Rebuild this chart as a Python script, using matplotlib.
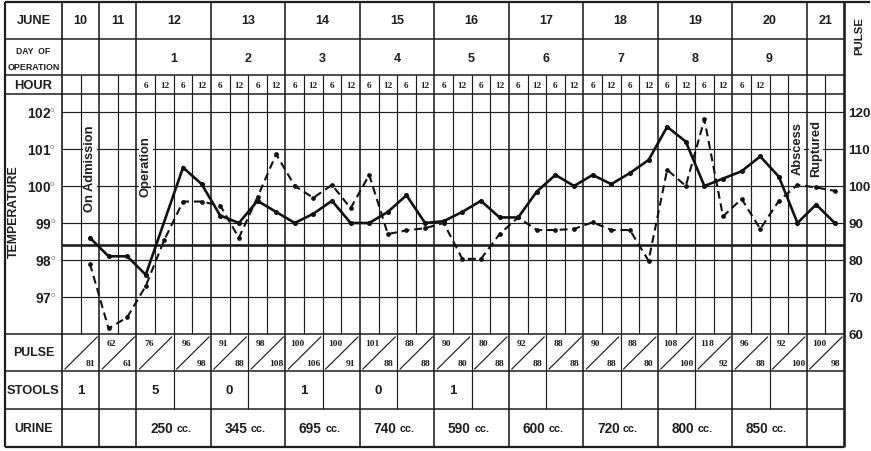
import matplotlib
matplotlib.use("Agg")
import matplotlib.pyplot as plt

# ---------------- data ----------------
dates = ["10", "11", "12", "13", "14", "15", "16", "17", "18", "19", "20", "21"]
day_of_operation = ["", "", "1", "2", "3", "4", "5", "6", "7", "8", "9", ""]
subcols_per_day = [2, 2, 4, 4, 4, 4, 4, 4, 4, 4, 4, 2]
hour_labels = (["", "", "", ""] + ["6", "12", "6", "12"] * 8
               + ["6", "12", "", ""] + ["", ""])

# temperature (deg F) read at each 6-hour slot (None = no reading plotted)
temperature = [None, 98.6, 98.1, 98.1, 97.6, None, 100.5, 100.05,
               99.2, 99.0, 99.6, 99.3, 99.0, 99.25, 99.6, 99.0,
               99.0, 99.3, 99.75, 99.0, 99.05, 99.3, 99.6, 99.15,
               99.15, 99.85, 100.3, 100.0, 100.3, 100.05, 100.35, 100.7,
               101.6, 101.2, 100.0, 100.2, 100.4, 100.8, 100.25, 99.0,
               99.5, 99.0]
# pulse (beats/min) read at each slot
pulse = [None, 79, 61.5, 64.5, 73, 85.5, 95.8, 95.8,
         94.7, 86, 97, 108.6, 100, 96.8, 100.3, 94,
         103, 87, 88, 88.6, 90, 80.3, 80.3, 87,
         91.5, 88.1, 88.1, 88.4, 90.2, 88.1, 88.1, 79.8,
         104.4, 100, 118, 91.8, 96.5, 88.4, 96, 100.3,
         99.6, 98.7]

pulse_top = ["", "62", "76", "96", "91", "98", "100", "100", "101", "88", "90",
             "80", "92", "88", "90", "88", "108", "118", "96", "92", "100"]
pulse_bottom = ["81", "61", "", "98", "88", "108", "106", "91", "88", "88", "80",
                "88", "88", "88", "88", "80", "100", "92", "88", "100", "98"]
stools = ["1", "", "5", "", "0", "", "1", "", "0", "", "1", "",
          "", "", "", "", "", "", "", "", ""]
urine = ["", "", "250", "345", "695", "740", "590", "600", "720", "800", "850", ""]

temp_ticks = [97, 98, 99, 100, 101, 102]
pulse_ticks = [60, 70, 80, 90, 100, 110, 120]
normal_temp = 98.4

# ---------------- layout (pixels) ----------------
W, H = 871, 452
X_LEFT, X_GRID, SUB_W = 5, 62, 18.62
NSUB = sum(subcols_per_day)
X_RIGHT = X_GRID + NSUB * SUB_W
Y_TOP, Y_JUNE, Y_DAY, Y_HOUR = 3, 40, 76, 95
Y_TEMP, Y_PULSE, Y_STOOL, Y_BOT = 335, 372, 410, 448
PX_PER_DEG = 37.0
T_MIN = 96.0
T_MAX = T_MIN + (Y_TEMP - Y_HOUR) / PX_PER_DEG
P_MIN = 60.0
P_MAX = P_MIN + 10 * (T_MAX - T_MIN)

SANS = "Liberation Sans"
SERIF = "Liberation Serif"
LC = "#1e1e1e"

plt.rcParams["mathtext.fontset"] = "custom"
plt.rcParams["mathtext.rm"] = SANS
plt.rcParams["mathtext.bf"] = SANS + ":bold"

fig = plt.figure(figsize=(W / 100, H / 100), dpi=100)
fig.patch.set_facecolor("white")

ax = fig.add_axes([0, 0, 1, 1])
ax.set_xlim(0, W)
ax.set_ylim(H, 0)
ax.axis("off")


def xs(k):
    return X_GRID + k * SUB_W


def hline(y, x0, x1, lw=0.8):
    ax.plot([x0, x1], [y, y], color=LC, lw=lw, solid_capstyle="butt")


def vline(x, y0, y1, lw=0.8):
    ax.plot([x, x], [y0, y1], color=LC, lw=lw, solid_capstyle="butt")


# outer frame
vline(X_LEFT, Y_TOP, Y_BOT, 1.6)
hline(Y_TOP, X_LEFT, W - 1, 1.6)
hline(Y_BOT, X_LEFT, X_RIGHT, 1.6)
vline(X_RIGHT, Y_TOP, Y_BOT, 1.9)
vline(X_GRID, Y_TOP, Y_BOT, 1.2)
for y in [Y_JUNE, Y_DAY, Y_HOUR, Y_TEMP, Y_PULSE, Y_STOOL]:
    hline(y, X_LEFT, X_RIGHT, 1.1)

# day boundaries
bounds = [0]
for n in subcols_per_day:
    bounds.append(bounds[-1] + n)
for k in range(1, NSUB):
    if k in bounds:
        vline(xs(k), Y_TOP, Y_BOT, 1.15)
    elif k % 2 == 0:
        vline(xs(k), Y_DAY, Y_STOOL, 0.85)
    else:
        vline(xs(k), Y_DAY, Y_TEMP, 0.85)

# pulse-row diagonals
ncell = NSUB // 2
for c in range(ncell):
    xl, xr = xs(2 * c), xs(2 * c + 2)
    ax.plot([xl + 3, xr - 2], [Y_PULSE - 2, Y_TEMP + 3], color=LC, lw=0.85)
    w = xr - xl
    if pulse_top[c]:
        ax.text(xl + 0.33 * w, Y_TEMP + 9, pulse_top[c], ha="center", va="center",
                fontsize=6.8, fontweight="bold", family=SERIF, color=LC)
    if pulse_bottom[c]:
        ax.text(xl + 0.76 * w, Y_PULSE - 8, pulse_bottom[c], ha="center", va="center",
                fontsize=6.8, fontweight="bold", family=SERIF, color=LC)
    if stools[c]:
        ax.text((xl + xr) / 2, (Y_PULSE + Y_STOOL) / 2, stools[c], ha="center",
                va="center", fontsize=9.5, fontweight="bold", family=SANS, color=LC)

# header texts
lab_x = (X_LEFT + X_GRID) / 2
ax.text(lab_x, (Y_TOP + Y_JUNE) / 2, "JUNE", ha="center", va="center",
        fontsize=9.3, fontweight="bold", family=SANS, color=LC)
ax.text(lab_x, 51, "DAY  OF", ha="center", va="center",
        fontsize=6.2, fontweight="bold", family=SANS, color=LC)
ax.text(lab_x, 67, "OPERATION", ha="center", va="center",
        fontsize=6.4, fontweight="bold", family=SANS, color=LC)
ax.text(lab_x, (Y_DAY + Y_HOUR) / 2 + 0.5, "HOUR", ha="center", va="center",
        fontsize=9.3, fontweight="bold", family=SANS, color=LC)
ax.text(14, 212, "TEMPERATURE", ha="center", va="center", rotation=90,
        fontsize=8.8, fontweight="bold", family=SANS, color=LC)
ax.text(lab_x, (Y_TEMP + Y_PULSE) / 2, "PULSE", ha="center", va="center",
        fontsize=8.9, fontweight="bold", family=SANS, color=LC)
ax.text(lab_x, (Y_PULSE + Y_STOOL) / 2, "STOOLS", ha="center", va="center",
        fontsize=9.3, fontweight="bold", family=SANS, color=LC)
ax.text(lab_x, (Y_STOOL + Y_BOT) / 2, "URINE", ha="center", va="center",
        fontsize=8.8, fontweight="bold", family=SANS, color=LC)
ax.text(859, 36, "PULSE", ha="center", va="center", rotation=90,
        fontsize=8.2, fontweight="bold", family=SANS, color=LC)

for d in range(len(dates)):
    cx = (xs(bounds[d]) + xs(bounds[d + 1])) / 2
    ax.text(cx, (Y_TOP + Y_JUNE) / 2, dates[d], ha="center", va="center",
            fontsize=9, fontweight="bold", family=SANS, color=LC)
    if day_of_operation[d]:
        ax.text(cx, (Y_JUNE + Y_DAY) / 2 + 1, day_of_operation[d], ha="center",
                va="center", fontsize=9, fontweight="bold", family=SANS, color=LC)
    if urine[d]:
        yc = (Y_STOOL + Y_BOT) / 2
        ax.text(cx - 1, yc, urine[d], ha="right", va="center",
                fontsize=9.8, fontweight="bold", family=SANS, color=LC)
        ax.text(cx + 2.5, yc + 0.5, "cc.", ha="left", va="center",
                fontsize=7.8, fontweight="bold", family=SANS, color=LC)

for k, h in enumerate(hour_labels):
    if h:
        ax.text(xs(k + 0.5), (Y_DAY + Y_HOUR) / 2 + 0.5, h, ha="center", va="center",
                fontsize=6.6, fontweight="bold", family=SERIF, color=LC)

# ---------------- temperature / pulse chart ----------------
ax_t = fig.add_axes([X_GRID / W, 1 - Y_TEMP / H, (X_RIGHT - X_GRID) / W,
                     (Y_TEMP - Y_HOUR) / H])
ax_t.set_facecolor("none")
ax_t.set_xlim(0, NSUB)
ax_t.set_ylim(T_MIN, T_MAX)
for s in ax_t.spines.values():
    s.set_visible(False)
ax_t.set_xticks([])
ax_t.set_yticks(temp_ticks)
ax_t.set_yticklabels([r"$\mathbf{%d}^{\circ}$" % t for t in temp_ticks],
                     fontsize=9.8, color=LC)
ax_t.tick_params(axis="y", length=0, pad=4)
for t in temp_ticks:
    ax_t.axhline(t, color=LC, lw=0.85, zorder=1)
ax_t.axhline(normal_temp, color=LC, lw=1.9, zorder=2)

tx = [i + 0.5 for i, v in enumerate(temperature) if v is not None]
ty = [v for v in temperature if v is not None]
ax_t.plot(tx, ty, color="#111111", lw=1.9, marker="o", ms=2.6, zorder=5,
          solid_joinstyle="miter")

ax_p = ax_t.twinx()
ax_p.set_ylim(P_MIN, P_MAX)
for s in ax_p.spines.values():
    s.set_visible(False)
ax_p.set_yticks(pulse_ticks)
ax_p.set_yticklabels([str(p) for p in pulse_ticks], fontsize=9.6,
                     fontweight="bold", family=SANS, color=LC)
ax_p.tick_params(axis="y", length=0, pad=3)
px_ = [i + 0.5 for i, v in enumerate(pulse) if v is not None]
py_ = [v for v in pulse if v is not None]
ax_p.plot(px_, py_, color="#111111", lw=1.5, linestyle=(0, (3.8, 2.3)),
          marker="o", ms=2.4, zorder=5)

# annotations
bb = dict(facecolor="white", edgecolor="none", pad=0.6)
notes = [(1.5, 100.5, "On Admission"), (4.5, 100.55, "Operation"),
         (39.5, 101.05, "Abscess"), (40.5, 101.05, "Ruptured")]
for x, y, s in notes:
    ax_t.text(x, y, s, rotation=90, ha="center", va="center", fontsize=9.3,
              fontweight="bold", family=SANS, color=LC, bbox=bb, zorder=4)

fig.savefig("out.png", dpi=100, facecolor="white")
